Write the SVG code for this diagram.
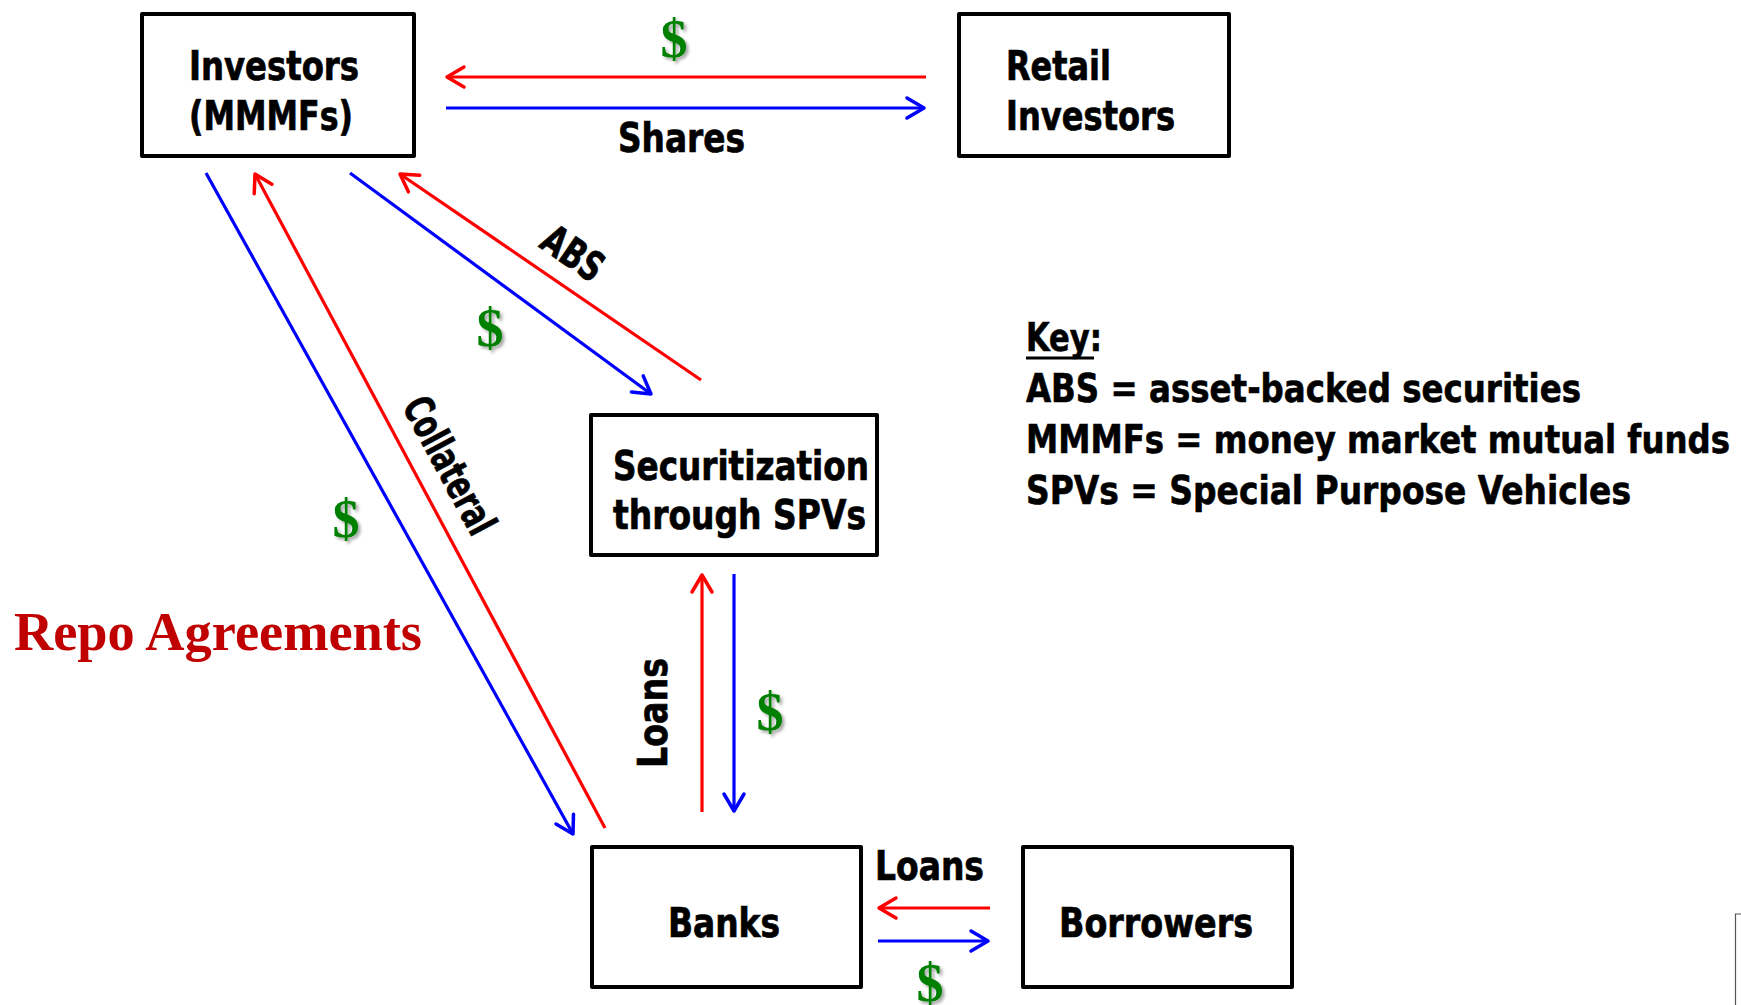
<svg xmlns="http://www.w3.org/2000/svg" width="1741" height="1005" viewBox="0 0 1741 1005">
<style>
.box{fill:#fff;stroke:#000;stroke-width:4;stroke-linejoin:round}
.lbl{font-family:"Liberation Sans Narrow","DejaVu Sans Condensed","Liberation Sans",sans-serif;font-weight:bold;font-size:41px;fill:#000;stroke:#000;stroke-width:0.7}
.key{font-family:"Liberation Sans Narrow","DejaVu Sans Condensed","Liberation Sans",sans-serif;font-weight:bold;font-size:39px;fill:#000;stroke:#000;stroke-width:0.6}
.dollar{font-family:"Liberation Serif","DejaVu Serif",serif;font-weight:bold;font-size:54px;fill:#008000;text-anchor:middle;filter:url(#shadow)}
.red{stroke:#FF0000;stroke-width:3.2;fill:none;marker-end:url(#ahRed)}
.blue{stroke:#0000FF;stroke-width:3.2;fill:none;marker-end:url(#ahBlue)}
.repo{font-family:"Liberation Serif","DejaVu Serif",serif;font-weight:bold;font-size:54px;fill:#C00000}
</style>
<defs>
<filter id="shadow" x="-30%" y="-30%" width="170%" height="170%">
<feDropShadow dx="2.5" dy="2.5" stdDeviation="1.5" flood-color="#000" flood-opacity="0.35"/>
</filter>
<marker id="ahRed" markerUnits="userSpaceOnUse" markerWidth="30" markerHeight="30" viewBox="-20 -15 30 30" refX="0" refY="0" orient="auto" overflow="visible">
<path d="M-17,-10 L0,0 L-17,10" fill="none" stroke="#FF0000" stroke-width="3.5" stroke-linecap="round" stroke-linejoin="round"/>
</marker>
<marker id="ahBlue" markerUnits="userSpaceOnUse" markerWidth="30" markerHeight="30" viewBox="-20 -15 30 30" refX="0" refY="0" orient="auto" overflow="visible">
<path d="M-17,-10 L0,0 L-17,10" fill="none" stroke="#0000FF" stroke-width="3.5" stroke-linecap="round" stroke-linejoin="round"/>
</marker>
</defs>
<rect width="1741" height="1005" fill="#fff"/>

<g id="connectors">
<line class="red" x1="926" y1="77" x2="447" y2="77"/>
<line class="blue" x1="446" y1="108" x2="924" y2="108"/>
<line class="blue" x1="350" y1="173" x2="651" y2="394"/>
<line class="red" x1="701" y1="380" x2="400" y2="174"/>
<line class="blue" x1="206" y1="173" x2="573" y2="834"/>
<line class="red" x1="605" y1="828" x2="255" y2="174"/>
<line class="red" x1="702" y1="812" x2="702" y2="575"/>
<line class="blue" x1="734" y1="574" x2="734" y2="811"/>
<line class="red" x1="990" y1="908" x2="879" y2="908"/>
<line class="blue" x1="878" y1="941" x2="988" y2="941"/>
</g>

<g id="investors">
<rect class="box" x="142" y="14" width="272" height="142"/>
<text class="lbl" x="189" y="80" textLength="170" lengthAdjust="spacingAndGlyphs">Investors</text>
<text class="lbl" x="189" y="130" textLength="164" lengthAdjust="spacingAndGlyphs">(MMMFs)</text>
</g>
<g id="retail">
<rect class="box" x="959" y="14" width="270" height="142"/>
<text class="lbl" x="1006" y="80" textLength="105" lengthAdjust="spacingAndGlyphs">Retail</text>
<text class="lbl" x="1006" y="130" textLength="169" lengthAdjust="spacingAndGlyphs">Investors</text>
</g>
<g id="securitization">
<rect class="box" x="591" y="415" width="286" height="140"/>
<text class="lbl" x="613" y="480" textLength="256" lengthAdjust="spacingAndGlyphs">Securitization</text>
<text class="lbl" x="613" y="529" textLength="253" lengthAdjust="spacingAndGlyphs">through SPVs</text>
</g>
<g id="banks">
<rect class="box" x="592" y="847" width="269" height="140"/>
<text class="lbl" x="668" y="937" textLength="112" lengthAdjust="spacingAndGlyphs">Banks</text>
</g>
<g id="borrowers">
<rect class="box" x="1023" y="847" width="269" height="140"/>
<text class="lbl" x="1059" y="937" textLength="194" lengthAdjust="spacingAndGlyphs">Borrowers</text>
</g>

<g id="labels">
<text class="lbl" x="618" y="152" textLength="127" lengthAdjust="spacingAndGlyphs">Shares</text>
<text class="lbl" x="875" y="880" textLength="109" lengthAdjust="spacingAndGlyphs">Loans</text>
<text class="lbl" transform="translate(667,713) rotate(-90)" text-anchor="middle" textLength="110" lengthAdjust="spacingAndGlyphs">Loans</text>
<text class="lbl" transform="translate(565,265) rotate(34.4)" text-anchor="middle" textLength="66" lengthAdjust="spacingAndGlyphs">ABS</text>
<text class="lbl" font-size="38" transform="translate(437,472) rotate(61.8)" text-anchor="middle" textLength="150" lengthAdjust="spacingAndGlyphs">Collateral</text>
<text class="dollar" x="674" y="57">$</text>
<text class="dollar" x="490" y="346">$</text>
<text class="dollar" x="346" y="537">$</text>
<text class="dollar" x="770" y="730">$</text>
<text class="dollar" x="930" y="1001">$</text>
<text class="repo" x="14" y="650" textLength="408" lengthAdjust="spacingAndGlyphs">Repo Agreements</text>
</g>

<g id="key">
<text class="key" x="1026" y="351" textLength="76" lengthAdjust="spacingAndGlyphs">Key:</text>
<line x1="1026" y1="358" x2="1094" y2="358" stroke="#000" stroke-width="3"/>
<text class="key" x="1026" y="402" textLength="555" lengthAdjust="spacingAndGlyphs">ABS = asset-backed securities</text>
<text class="key" x="1026" y="453" textLength="704" lengthAdjust="spacingAndGlyphs">MMMFs = money market mutual funds</text>
<text class="key" x="1026" y="504" textLength="605" lengthAdjust="spacingAndGlyphs">SPVs = Special Purpose Vehicles</text>
</g>

<path d="M1741,914 H1735.5 V1005" fill="none" stroke="#555" stroke-width="1.2"/>
</svg>
